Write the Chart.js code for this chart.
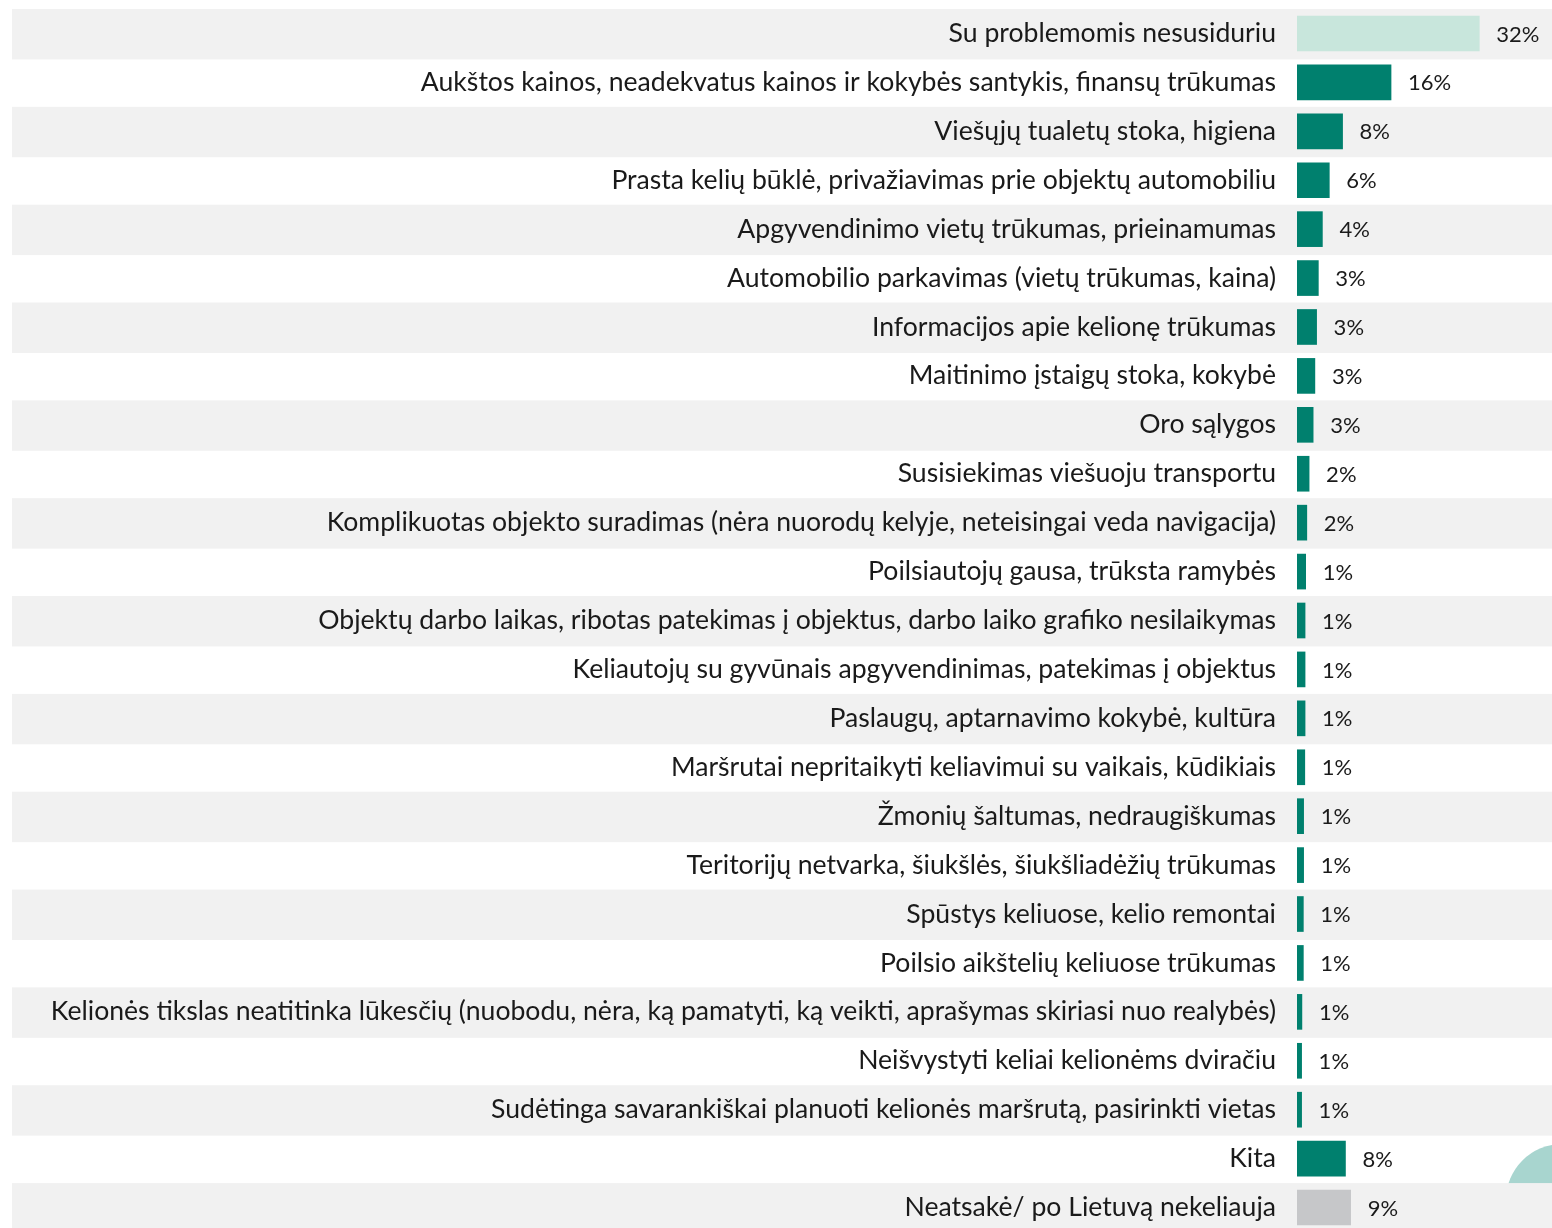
<!DOCTYPE html>
<html>
<head>
<meta charset="utf-8">
<script src="https://cdn.jsdelivr.net/npm/chart.js@4"></script>
<style>
  html, body { margin: 0; padding: 0; background: #fff; overflow: hidden; }
  #wrap { width: 1552px; height: 1232px; position: relative; }
</style>
</head>
<body>
<div id="wrap"><canvas id="barChart"></canvas></div>
<script>
let categories = [
    "Su problemomis nesusiduriu",
    "Aukštos kainos, neadekvatus kainos ir kokybės santykis, finansų trūkumas",
    "Viešųjų tualetų stoka, higiena",
    "Prasta kelių būklė, privažiavimas prie objektų automobiliu",
    "Apgyvendinimo vietų trūkumas, prieinamumas",
    "Automobilio parkavimas (vietų trūkumas, kaina)",
    "Informacijos apie kelionę trūkumas",
    "Maitinimo įstaigų stoka, kokybė",
    "Oro sąlygos",
    "Susisiekimas viešuoju transportu",
    "Komplikuotas objekto suradimas (nėra nuorodų kelyje, neteisingai veda navigacija)",
    "Poilsiautojų gausa, trūksta ramybės",
    "Objektų darbo laikas, ribotas patekimas į objektus, darbo laiko grafiko nesilaikymas",
    "Keliautojų su gyvūnais apgyvendinimas, patekimas į objektus",
    "Paslaugų, aptarnavimo kokybė, kultūra",
    "Maršrutai nepritaikyti keliavimui su vaikais, kūdikiais",
    "Žmonių šaltumas, nedraugiškumas",
    "Teritorijų netvarka, šiukšlės, šiukšliadėžių trūkumas",
    "Spūstys keliuose, kelio remontai",
    "Poilsio aikštelių keliuose trūkumas",
    "Kelionės tikslas neatitinka lūkesčių (nuobodu, nėra, ką pamatyti, ką veikti, aprašymas skiriasi nuo realybės)",
    "Neišvystyti keliai kelionėms dviračiu",
    "Sudėtinga savarankiškai planuoti kelionės maršrutą, pasirinkti vietas",
    "Kita",
    "Neatsakė/ po Lietuvą nekeliauja"
];

// values (percent)
let values = [31.6, 16.3, 7.9, 5.6, 4.4, 3.7, 3.4, 3.1, 2.8, 2.1, 1.7,
              1.5, 1.4, 1.4, 1.4, 1.35, 1.15, 1.15, 1.1, 1.1, 0.85, 0.8, 0.8,
              8.4, 9.3];

// percentages as printed next to the bars
let shownLabels = ["32%", "16%", "8%", "6%", "4%", "3%", "3%", "3%", "3%", "2%", "2%",
                   "1%", "1%", "1%", "1%", "1%", "1%", "1%", "1%", "1%", "1%", "1%", "1%",
                   "8%", "9%"];

let barColors = values.map((v, i) => {
    if (i === 0) return "#c8e6dc";
    if (i === values.length - 1) return "#c6c7c9";
    return "#00806e";
});

const FONT = "Lato, 'Open Sans', sans-serif";

// striped rows + little decoration, drawn under everything
const rowBands = {
    id: "rowBands",
    beforeDraw(chart) {
        let ctx = chart.ctx;
        let y = chart.scales.y;
        let step = y.height / categories.length;
        ctx.save();
        ctx.fillStyle = "#a8d5cf";
        ctx.beginPath();
        ctx.arc(1562, 1200, 56, 0, Math.PI * 2);
        ctx.fill();
        ctx.fillStyle = "#f1f1f1";
        categories.forEach((c, i) => {
            if (i % 2 !== 0) return;
            let cy = y.getPixelForValue(i);
            ctx.fillRect(12, cy - step / 2, chart.width - 12, step + 1.5);
        });
        ctx.restore();
    }
};

const valueLabels = {
    id: "valueLabels",
    afterDatasetsDraw(chart) {
        let ctx = chart.ctx;
        let meta = chart.getDatasetMeta(0);
        ctx.save();
        ctx.font = "22px " + FONT;
        ctx.fillStyle = "#1a1a1a";
        ctx.textAlign = "left";
        ctx.textBaseline = "middle";
        meta.data.forEach((bar, i) => {
            ctx.fillText(shownLabels[i], bar.x + 17, bar.y + 1);
        });
        ctx.restore();
    }
};

new Chart(document.getElementById("barChart"), {
    type: "bar",
    data: {
        labels: categories,
        datasets: [{
            data: values,
            backgroundColor: barColors,
            borderWidth: 0,
            barThickness: 35
        }]
    },
    options: {
        indexAxis: "y",
        responsive: true,
        maintainAspectRatio: false,
        animation: false,
        layout: { padding: { top: 9, left: 0, right: 0, bottom: 0 } },
        plugins: {
            legend: { display: false },
            tooltip: { enabled: false }
        },
        scales: {
            x: {
                display: false,
                min: 0,
                max: 44.2
            },
            y: {
                grid: { display: false, drawTicks: false },
                border: { display: false },
                afterFit: s => {
                    s.width = 1297;
                    s.paddingTop = 0;
                    s.paddingBottom = 0;
                },
                ticks: {
                    padding: 21,
                    color: "#1a1a1a",
                    autoSkip: false,
                    font: { family: FONT, size: 26.6 }
                }
            }
        }
    },
    plugins: [rowBands, valueLabels]
});
</script>
</body>
</html>
